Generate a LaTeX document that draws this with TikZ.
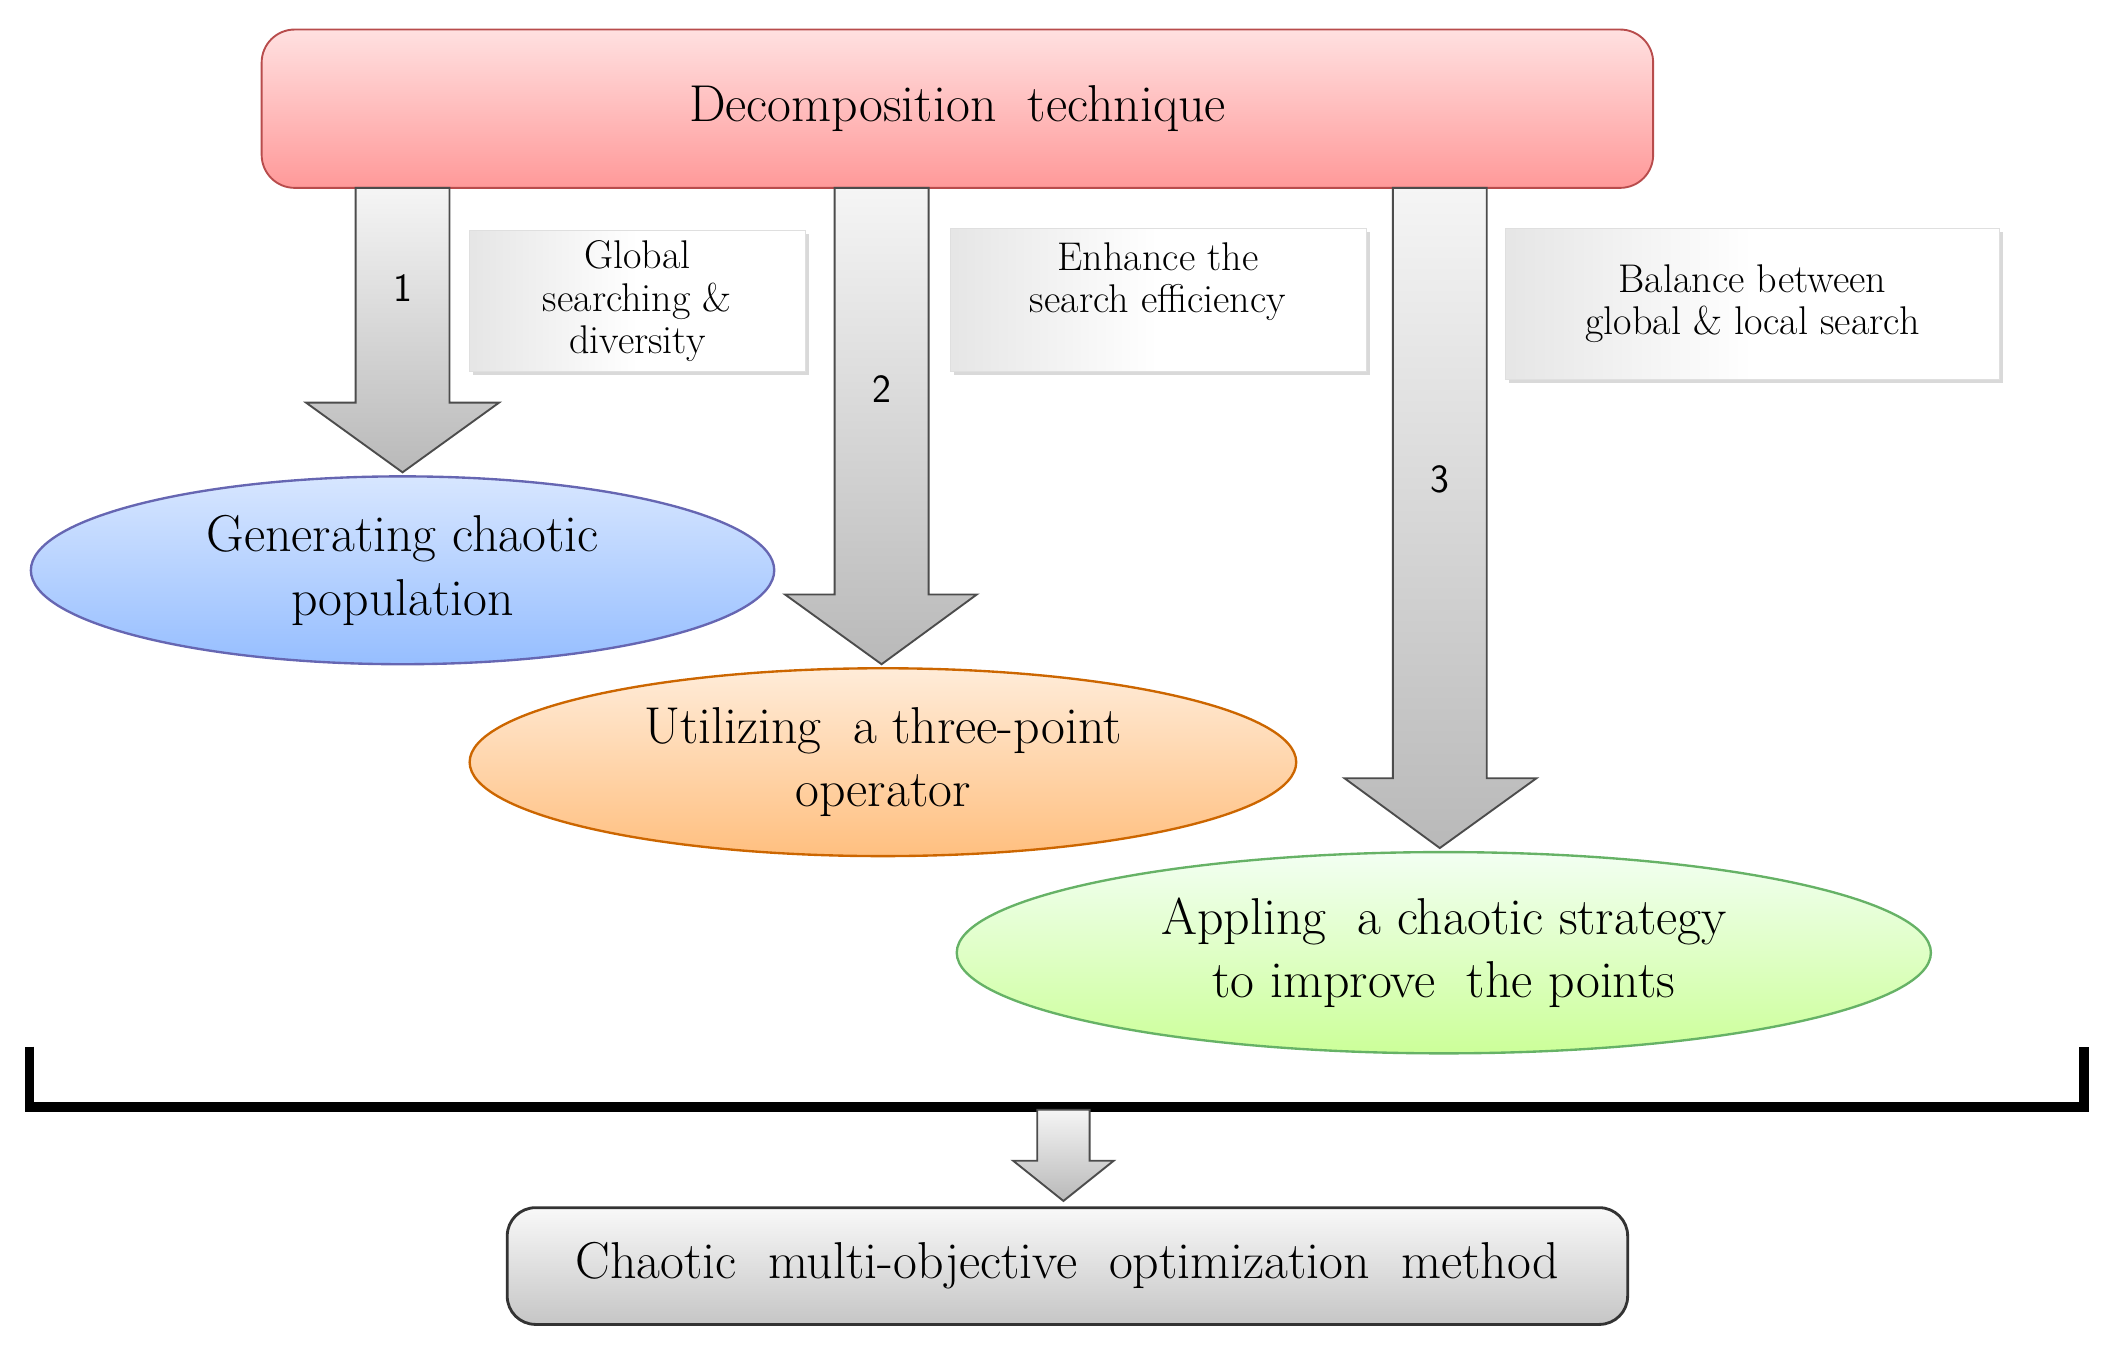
\documentclass[tikz,border=0pt]{standalone}
\usetikzlibrary{shapes.geometric,shadows}
\definecolor{skyb}{RGB}{150,190,255}
\definecolor{skyt}{RGB}{215,230,255}
\begin{document}
\begin{tikzpicture}[x=0.02cm,y=-0.02cm,
  big/.style={font=\fontsize{22}{27}\selectfont, align=center},
  small/.style={font=\fontsize{17}{18}\selectfont, align=center},
  blk/.style={draw=black!70, line width=0.8pt, top color=gray!8, bottom color=gray!55},
  call/.style={draw=gray!25, fill=white, drop shadow={shadow xshift=1.5pt,shadow yshift=-1.5pt,opacity=0.3}, left color=gray!20, right color=white, middle color=white},
  ell/.style={ellipse, line width=1pt, big, inner sep=0pt}]
\useasboundingbox (0,0) rectangle (1568,1012);
% top box
\node[draw=red!60!black!70, line width=0.8pt, rounded corners=14pt, top color=red!12, bottom color=red!40,
  minimum width=1037*0.02cm, minimum height=118*0.02cm, big] (top) at (713.5,81) {Decomposition\ \ technique};
% block arrows
\foreach \l/\r/\hl/\hr/\hy/\tip/\ly/\n in {265/335/228/372/300/352/215/1, 622/692/585/728/443/495/290/2, 1038/1108/1002/1145/580/632/357/3}{
  \draw[blk] (\l,140) -- (\r,140) -- (\r,\hy) -- (\hr,\hy) -- ({(\l+\r)/2},\tip) -- (\hl,\hy) -- (\l,\hy) -- cycle;
  \node[font=\fontsize{17}{20}\selectfont\sffamily] (n\n) at ({(\l+\r)/2},\ly) {\n};
}
% callouts
\node[call, minimum width=250*0.02cm, minimum height=105*0.02cm, small] (c1) at (475,224.5) {Global\\searching \&\\diversity};
\node[call, minimum width=310*0.02cm, minimum height=107*0.02cm] (c2) at (863,223.5) {};
\node[small] (t2) at (863,210) {Enhance the\\search efficiency};
\node[call, minimum width=368*0.02cm, minimum height=113*0.02cm, small] (c3) at (1306,226.5) {Balance between\\global \& local search};
% ellipses
\node[ell, draw=blue!50!black!60, top color=skyt, bottom color=skyb, minimum width=554*0.02cm, minimum height=140*0.02cm] (e1) at (300,425) {Generating chaotic\\population};
\node[ell, draw=orange!80!black, top color=orange!15, bottom color=orange!50, minimum width=616*0.02cm, minimum height=140*0.02cm] (e2) at (658,568) {Utilizing\ \ a three-point\\operator};
\node[ell, draw=green!50!black!60, top color=green!5!white, bottom color=green!50!yellow!40, minimum width=726*0.02cm, minimum height=150*0.02cm] (e3) at (1076,710) {Appling\ \ a chaotic strategy\\to improve\ \ the points};
% bracket
\draw[line width=4pt] (22,780) -- (22,825) -- (1553,825) -- (1553,780);
\draw[blk] (773,827) -- (812,827) -- (812,865) -- (830,865) -- (792.5,895) -- (755,865) -- (773,865) -- cycle;
% bottom box
\node[draw=black!80, line width=1.2pt, rounded corners=12pt, top color=gray!5, bottom color=gray!45,
  minimum width=835*0.02cm, minimum height=87*0.02cm, big] (bot) at (795.5,943.5) {Chaotic\ \ multi-objective\ \ optimization\ \ method};
\end{tikzpicture}
\end{document}
